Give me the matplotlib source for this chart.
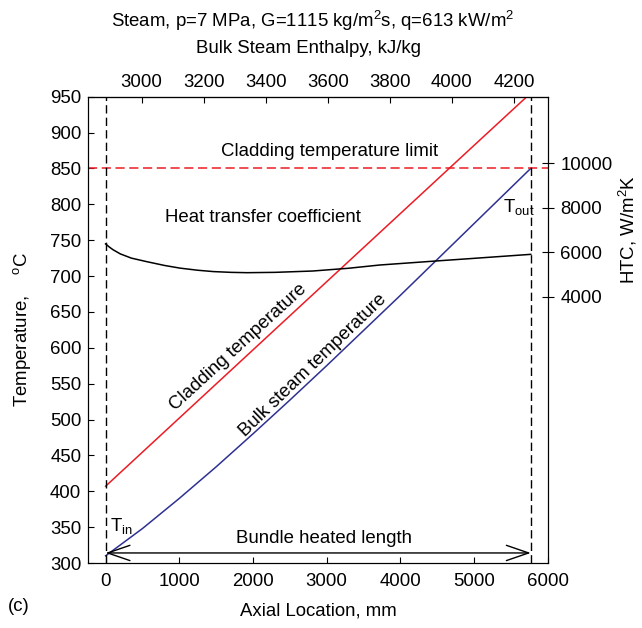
import numpy as np
import matplotlib
matplotlib.use("Agg")
import matplotlib.pyplot as plt

plt.rcParams['font.family'] = ['Liberation Sans', 'DejaVu Sans']
plt.rcParams['mathtext.fontset'] = 'custom'
plt.rcParams['mathtext.rm'] = 'Liberation Sans'
plt.rcParams['mathtext.it'] = 'Liberation Sans'

# --- data ---
heated_length = 5770          # mm
t_limit = 850                 # degC

clad_x = [0, 1000, 2000, 3000, 4000, 5000, 5770]
clad_t = [407, 502, 597, 692, 787, 882, 955]

bulk_x = [0, 500, 1000, 1500, 2000, 2500, 3000, 3500, 4000, 4500, 5000, 5500, 5770]
bulk_t = [310, 348, 390, 434, 480, 527, 575, 624, 673, 723, 773, 823, 850]

htc_x = [0, 50, 100, 200, 350, 560, 800, 1010, 1250, 1460, 1700, 1920, 2300, 2810, 3300, 3720, 4500, 5000, 5770]
htc_v = [6380, 6240, 6120, 5930, 5740, 5580, 5410, 5290, 5195, 5135, 5100, 5085, 5100, 5160, 5285, 5430, 5615, 5730, 5910]

enth_ticks = [3000, 3200, 3400, 3600, 3800, 4000, 4200]
htc_ticks = [4000, 6000, 8000, 10000]

FS = 13.4
red = '#ec1c24'
blue = '#2e3192'

fig = plt.figure(figsize=(6.42, 6.28), dpi=100)
ax = fig.add_axes([0.1375, 0.1035, 0.7156, 0.7426])

ax.plot(clad_x, clad_t, color=red, lw=1.1)
ax.plot(bulk_x, bulk_t, color=blue, lw=1.1)
ax.axhline(t_limit, color=red, lw=1.1, ls=(0, (6, 3)))
ax.axvline(0, color='k', lw=1.0, ls=(0, (6, 3)))
ax.axvline(heated_length, color='k', lw=1.0, ls=(0, (6, 3)))

ax.set_xlim(-235, 6000)
ax.set_ylim(300, 950)
ax.set_xticks(range(0, 6001, 1000))
ax.set_yticks(range(300, 951, 50))
ax.tick_params(axis='both', direction='in', length=4, labelsize=FS, top=False, right=False)
ax.tick_params(axis='x', pad=7)
ax.tick_params(axis='y', pad=5)
ax.set_xlabel('Axial Location, mm', fontsize=FS, labelpad=9)
ax.set_ylabel('Temperature,    $^{\\rm o}$C', fontsize=FS, labelpad=12)

# top axis: bulk steam enthalpy
def mm2h(x):
    return 2884.1 + np.asarray(x) * 0.23736

def h2mm(h):
    return (np.asarray(h) - 2884.1) / 0.23736

top = ax.secondary_xaxis('top', functions=(mm2h, h2mm))
top.set_xticks(enth_ticks)
top.tick_params(direction='in', length=4, labelsize=FS, pad=4)

# right axis: heat transfer coefficient
ax2 = ax.twinx()
ax2.plot(htc_x, htc_v, color='k', lw=1.1)
ax2.set_ylim(-7975, 13004)
ax2.set_yticks(htc_ticks)
ax2.tick_params(axis='y', direction='inout', length=8, labelsize=FS, pad=5)
fig.text(628 / 642, 1 - 230 / 628, 'HTC, W/m$^2$K', fontsize=FS,
         rotation=90, ha='center', va='center')

# bundle heated length arrow
ax.annotate('', xy=(0, 314), xytext=(heated_length, 314),
            arrowprops=dict(arrowstyle='<->,head_length=1.6,head_width=0.55',
                            color='k', lw=1.0, shrinkA=0, shrinkB=0))
ax.text(2960, 322, 'Bundle heated length', fontsize=FS, ha='center', va='bottom')

ax.text(3040, 873, 'Cladding temperature limit', fontsize=FS, ha='center', va='center')
ax.text(805, 781, 'Heat transfer coefficient', fontsize=FS, ha='left', va='center')
ax.text(1800, 601, 'Cladding temperature', fontsize=FS, ha='center', va='center', rotation=42.5)
ax.text(2817, 576, 'Bulk steam temperature', fontsize=FS, ha='center', va='center', rotation=44)
ax.text(5390, 789, '$\\mathregular{T_{out}}$', fontsize=FS, ha='left', va='baseline')
ax.text(60, 344, '$\\mathregular{T_{in}}$', fontsize=FS, ha='left', va='baseline')

fig.text(313 / 642, 1 - 27 / 628, 'Steam, p=7 MPa, G=1115 kg/m$^2$s, q=613 kW/m$^2$',
         fontsize=FS, ha='center', va='baseline')
fig.text(308 / 642, 1 - 53 / 628, 'Bulk Steam Enthalpy, kJ/kg', fontsize=FS,
         ha='center', va='baseline')
fig.text(0.012, 0.035, '(c)', fontsize=FS, ha='left', va='center')

fig.savefig('out.png', dpi=100)
